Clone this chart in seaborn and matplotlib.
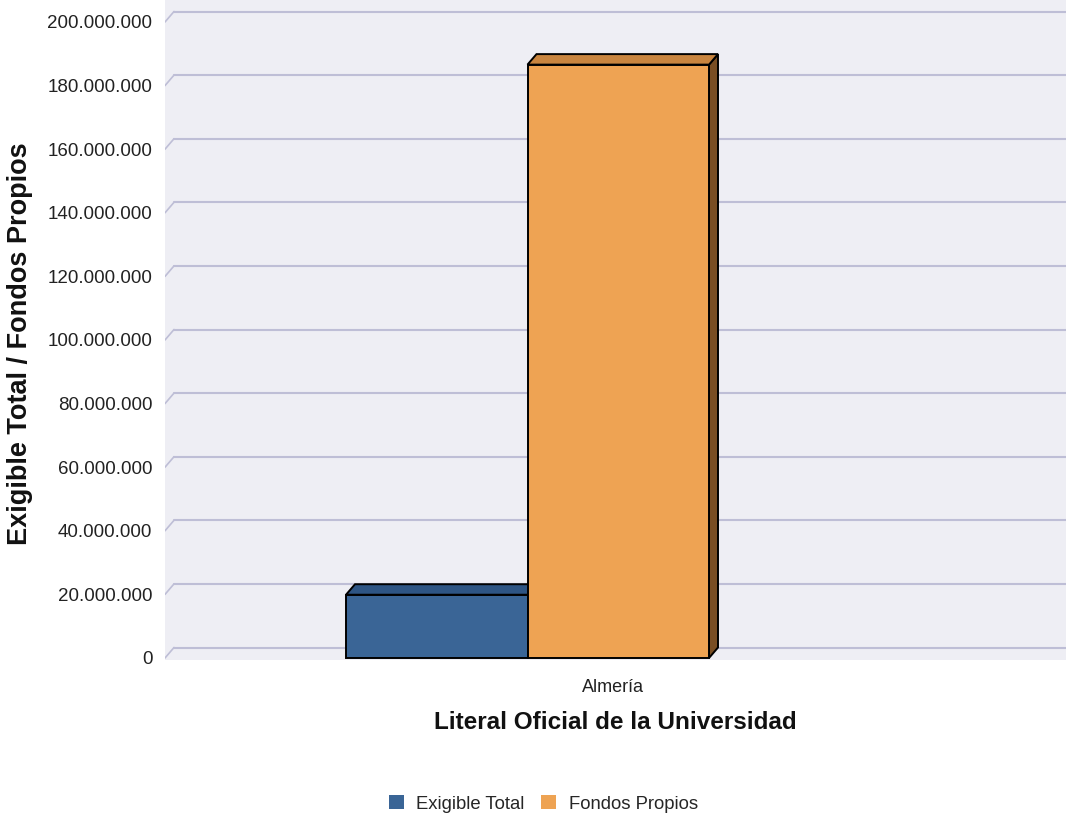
import numpy as np
import pandas as pd
import seaborn as sns
import matplotlib
matplotlib.use("Agg")
import matplotlib.pyplot as plt
from matplotlib.patches import Polygon, Patch
from matplotlib.ticker import FuncFormatter

# data
categories = ["Almería"]
series = ["Exigible Total", "Fondos Propios"]
values = [19.9e6, 186.6e6]
y_ticks = np.arange(0, 200e6 + 1, 20e6)

front_colors = ["#3A6596", "#EEA353"]
top_colors = ["#2E5584", "#C9853F"]
side_colors = ["#22405F", "#7A4E23"]

df = pd.DataFrame({
    "universidad": categories * len(series),
    "serie": series,
    "valor": values,
})

sns.set_style("white")
plt.rcParams["font.family"] = ["Liberation Sans", "DejaVu Sans"]

fig = plt.figure(figsize=(10.66, 8.16), dpi=100)
W, H = 1066, 816
ax = fig.add_axes([165 / W, (H - 660) / H, (W - 165) / W, 660 / H])
ax.set_facecolor("#EEEEF4")

sns.barplot(data=df, x="universidad", y="valor", hue="serie",
            palette=front_colors, saturation=1, width=0.8,
            edgecolor="black", linewidth=1.4, ax=ax)
ax.get_legend().remove()

# pixel -> data geometry
px_x = 453.75          # pixels per x unit
px_y = 3.18e-6         # pixels per y unit
ax.set_xlim((165 - 527.5) / px_x, (1066 - 527.5) / px_x)
ax.set_ylim(-2 / px_y, 658 / px_y)
dx = 9 / px_x
dy = 10.5 / px_y

xl, xr = ax.get_xlim()
grid_c = "#BEBED6"
for v in y_ticks:
    ax.plot([xl + dx, xr], [v + dy, v + dy], color=grid_c, lw=1.5, zorder=0.5)
    ax.plot([xl, xl + dx], [v, v + dy], color=grid_c, lw=1.2, zorder=0.5)

# fake 3d faces on each bar
for i, p in enumerate(ax.patches[:len(series)]):
    x0, w, h = p.get_x(), p.get_width(), p.get_height()
    x1 = x0 + w
    z = 2 + i
    p.set_zorder(z + 0.2)
    top = Polygon([(x0, h), (x1, h), (x1 + dx, h + dy), (x0 + dx, h + dy)],
                  closed=True, facecolor=top_colors[i], edgecolor="black",
                  lw=1.4, joinstyle="miter", zorder=z)
    side = Polygon([(x1, 0), (x1, h), (x1 + dx, h + dy), (x1 + dx, dy)],
                   closed=True, facecolor=side_colors[i], edgecolor="black",
                   lw=1.4, joinstyle="miter", zorder=z)
    ax.add_patch(side)
    ax.add_patch(top)

ax.set_yticks(y_ticks)
ax.yaxis.set_major_formatter(FuncFormatter(lambda v, _: f"{int(round(v)):,}".replace(",", ".")))
ax.set_xticks([(613 - 527.5) / px_x], labels=categories)
ax.tick_params(axis="y", length=0, pad=9, labelsize=13.5, labelcolor="#222222")
ax.tick_params(axis="x", length=0, pad=14, labelsize=13, labelcolor="#222222")
for s in ax.spines.values():
    s.set_visible(False)

ax.set_xlabel("Literal Oficial de la Universidad", fontsize=17.5,
              fontweight="bold", color="#111111")
ax.xaxis.set_label_coords(0.5, -0.077)
ax.set_ylabel("Exigible Total / Fondos Propios", fontsize=19.5,
              fontweight="bold", color="#111111")
ax.yaxis.set_label_coords(-0.146, 0.48)

handles = [Patch(facecolor=c, edgecolor="none") for c in front_colors]
fig.legend(handles, series, loc="center", bbox_to_anchor=(543.5 / W, 12 / H),
           ncol=2, frameon=False, fontsize=13.3, handlelength=0.8,
           handleheight=0.8, handletextpad=0.7, columnspacing=0.9)

fig.savefig("out.png", dpi=100)
